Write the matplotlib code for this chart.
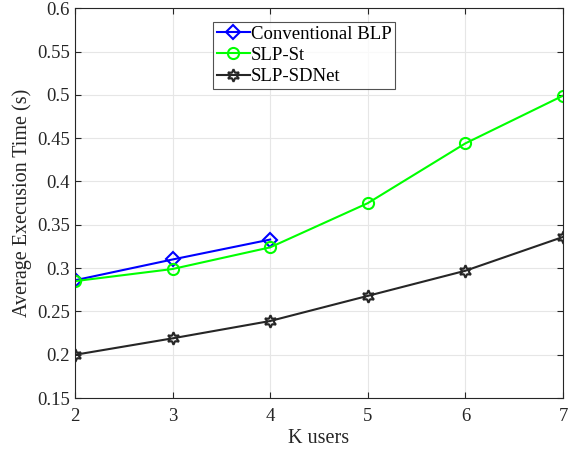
import matplotlib
matplotlib.use("Agg")
import matplotlib.pyplot as plt

plt.rcParams['font.family'] = ['Liberation Serif', 'DejaVu Serif']

k_blp = [2, 3, 4]
blp = [0.286, 0.310, 0.333]
k_all = [2, 3, 4, 5, 6, 7]
slp_st = [0.285, 0.299, 0.324, 0.375, 0.444, 0.499]
slp_sdnet = [0.200, 0.219, 0.239, 0.268, 0.297, 0.336]
yticks = [0.15, 0.2, 0.25, 0.3, 0.35, 0.4, 0.45, 0.5, 0.55, 0.6]
ytick_labels = ['0.15', '0.2', '0.25', '0.3', '0.35', '0.4', '0.45', '0.5', '0.55', '0.6']

fig = plt.figure(figsize=(5.81, 4.55), dpi=100)
ax = fig.add_axes([0.129, 0.125, 0.840, 0.857])

ax.plot(k_blp, blp, color='#0000ff', lw=1.5, marker='D', ms=7, mfc='none', mew=1.5,
        label='Conventional BLP')
ax.plot(k_all, slp_st, color='#00ff00', lw=1.5, marker='o', ms=8, mfc='none', mew=1.5,
        label='SLP-St')
ax.plot(k_all, slp_sdnet, color='#262626', lw=1.5, marker=(6, 1, 0), ms=9, mfc='none', mew=1.5,
        label='SLP-SDNet')

ax.set_xlim(2, 7)
ax.set_ylim(0.15, 0.6)
ax.set_xticks(k_all)
ax.set_yticks(yticks)
ax.set_yticklabels(ytick_labels)
ax.tick_params(direction='in', labelsize=13.5, colors='#262626', length=4, top=True, right=True)
ax.tick_params(axis='x', pad=7)
for s in ax.spines.values():
    s.set_color('#262626')
    s.set_linewidth(0.8)
ax.grid(True, color='#e6e6e6', lw=0.8)
ax.set_axisbelow(True)
ax.set_xlabel('K users', fontsize=14.5, color='#262626', labelpad=3)
ax.set_ylabel('Average Execusion Time (s)', fontsize=14.5, color='#262626')

leg = ax.legend(loc='upper left', bbox_to_anchor=(0.283, 0.965), fontsize=13.5, frameon=True,
                fancybox=False, edgecolor='#262626', handlelength=1.75, handletextpad=0.05,
                borderpad=0.2, labelspacing=0.22, borderaxespad=0)
leg.get_frame().set_linewidth(0.8)

fig.savefig('out.png', dpi=100)
